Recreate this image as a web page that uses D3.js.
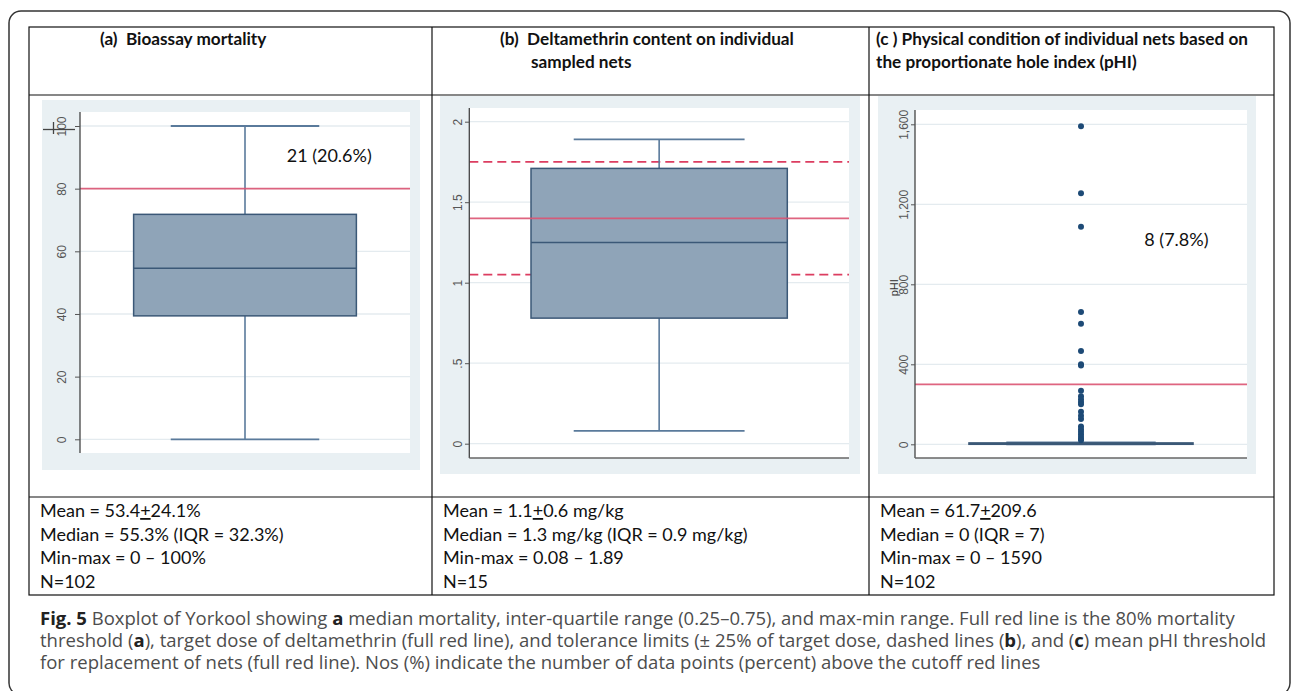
<!DOCTYPE html>
<html>
<head>
<meta charset="utf-8">
<script src="https://cdn.jsdelivr.net/npm/d3@7"></script>
<style>
body { margin: 0; background: #fff; }
svg text { font-family: Lato, sans-serif; white-space: pre; }
</style>
</head>
<body>
<svg id="fig" width="1292" height="691"></svg>
<script>
// Values
// box = [min, q1, median, q3, max]
var mortalityBox = [0, 39.4, 54.6, 71.8, 100];
var deltaBox = [0.08, 0.78, 1.25, 1.71, 1.89];
var phiBox = [0, 0, 0, 7, 10];
var phiOutliers = [1590, 1255, 1088, 661, 603, 466, 400, 394,
                   268, 240, 225, 212, 200, 163, 143, 127, 89, 75, 63, 50, 38, 27, 20];

var mortalityTicks = [0, 20, 40, 60, 80, 100];
var mortalityTickLabels = ["0", "20", "40", "60", "80", "100"];
var deltaTicks = [0, 0.5, 1, 1.5, 2];
var deltaTickLabels = ["0", ".5", "1", "1.5", "2"];
var phiTicks = [0, 400, 800, 1200, 1600];
var phiTickLabels = ["0", "400", "800", "1,200", "1,600"];

var mortalityCutoff = [80];
var deltaTarget = [1.4];
var deltaLimits = [1.05, 1.75];
var phiCutoff = [300];

var annotations = ["21 (20.6%)", "", "8 (7.8%)"];

var headers = [
  ["(a)  Bioassay mortality"],
  ["(b)  Deltamethrin content on individual", "sampled nets"],
  ["(c ) Physical condition of individual nets based on", "the proportionate hole index (pHI)"]
];
// [before, underlined, after]
var meanLines = [["Mean = 53.4", "+", "24.1%"], ["Mean = 1.1", "+", "0.6 mg/kg"], ["Mean = 61.7", "+", "209.6"]];
var medianLines = ["Median = 55.3% (IQR = 32.3%)", "Median = 1.3 mg/kg (IQR = 0.9 mg/kg)", "Median = 0 (IQR = 7)"];
var rangeLines = ["Min-max = 0 \u2013 100%", "Min-max = 0.08 \u2013 1.89", "Min-max = 0 \u2013 1590"];
var nLines = ["N=102", "N=15", "N=102"];

// caption pieces: [text, bold?]
var captionLines = [
  [["Fig. 5", 1], [" Boxplot of Yorkool showing ", 0], ["a", 1], [" median mortality, inter-quartile range (0.25\u20130.75), and max-min range. Full red line is the 80% mortality", 0]],
  [["threshold (", 0], ["a", 1], ["), target dose of deltamethrin (full red line), and tolerance limits (\u00b1 25% of target dose, dashed lines (", 0], ["b", 1], ["), and (", 0], ["c", 1], [") mean pHI threshold", 0]],
  [["for replacement of nets (full red line). Nos (%) indicate the number of data points (percent) above the cutoff red lines", 0]]
];

// Layout
var tableLeft = 29, tableRight = 1274, tableTop = 27, tableBottom = 595;
var rowLines = [95, 497];
var colLines = [432, 869];
var colStarts = [tableLeft, colLines[0], colLines[1]];

var boxColor = "#8fa4b8", boxStroke = "#3b5877", whiskerColor = "#5a7a9b";
var redColor = "#dc5473", gridColor = "#e4ebef", bgColor = "#e9f0f3";

var svg = d3.select("#fig");
svg.append("rect").attr("width", 1292).attr("height", 691).attr("fill", "#fff");

// outer rounded frame
svg.append("rect")
  .attr("x", 9).attr("y", 11).attr("width", 1281).attr("height", 684)
  .attr("rx", 12)
  .attr("fill", "none").attr("stroke", "#333").attr("stroke-width", 1.5);

// Panels
var panelDefs = [
  {bg: [42, 100, 420, 470], plot: [80, 112, 410, 453], domain: [0, 100], range: [439.3, 126],
   box: mortalityBox, ticks: mortalityTicks, labels: mortalityTickLabels, xLine: false, labOff: 18.3, tick: 5,
   note: [286.7, 155]},
  {bg: [440, 96, 860, 474], plot: [469.3, 108, 849, 458], domain: [0, 2], range: [443.7, 121.7],
   box: deltaBox, ticks: deltaTicks, labels: deltaTickLabels, xLine: true, labOff: 11.5, tick: 4.3,
   note: [0, 0]},
  {bg: [878, 96, 1256, 474], plot: [915, 110, 1247, 458], domain: [0, 1600], range: [444.3, 124.3],
   box: phiBox, ticks: phiTicks, labels: phiTickLabels, xLine: true, labOff: 10.7, tick: 4,
   note: [1144.3, 239]}
];

panelDefs.forEach(function(p, i) {
  var g = svg.append("g");
  var y = d3.scaleLinear().domain(p.domain).range(p.range);
  var x = d3.scaleLinear().domain([0, 1]).range([p.plot[0], p.plot[2]]);

  g.append("rect")
    .attr("x", p.bg[0]).attr("y", p.bg[1])
    .attr("width", p.bg[2] - p.bg[0]).attr("height", p.bg[3] - p.bg[1])
    .attr("fill", bgColor);
  g.append("rect")
    .attr("x", p.plot[0]).attr("y", p.plot[1])
    .attr("width", p.plot[2] - p.plot[0]).attr("height", p.plot[3] - p.plot[1])
    .attr("fill", "#fff");

  // gridlines
  g.selectAll(".grid").data(p.ticks).enter().append("line")
    .attr("x1", p.plot[0]).attr("x2", p.plot[2])
    .attr("y1", d => y(d)).attr("y2", d => y(d))
    .attr("stroke", gridColor).attr("stroke-width", 1.3);

  // dashed tolerance lines sit behind the box
  if (i == 1) {
    g.selectAll(".limit").data(deltaLimits).enter().append("line")
      .attr("x1", p.plot[0]).attr("x2", p.plot[2])
      .attr("y1", d => y(d)).attr("y2", d => y(d))
      .attr("stroke", "#dc3d60").attr("stroke-width", 1.8)
      .attr("stroke-dasharray", "9,5");
  }

  var b = p.box;
  var cx = x(0.5);
  // whiskers
  g.append("line").attr("x1", cx).attr("x2", cx).attr("y1", y(b[3])).attr("y2", y(b[4]))
    .attr("stroke", whiskerColor).attr("stroke-width", 1.6);
  g.append("line").attr("x1", cx).attr("x2", cx).attr("y1", y(b[1])).attr("y2", y(b[0]))
    .attr("stroke", whiskerColor).attr("stroke-width", 1.6);
  g.selectAll(".cap").data([b[0], b[4]]).enter().append("line")
    .attr("x1", x(0.275)).attr("x2", x(0.725))
    .attr("y1", d => y(d)).attr("y2", d => y(d))
    .attr("stroke", whiskerColor).attr("stroke-width", 1.8);
  // box
  g.append("rect")
    .attr("x", x(0.1625)).attr("width", x(0.8375) - x(0.1625))
    .attr("y", y(b[3])).attr("height", Math.max(y(b[1]) - y(b[3]), 1))
    .attr("fill", boxColor).attr("stroke", boxStroke).attr("stroke-width", 1.5);
  g.append("line")
    .attr("x1", x(0.1625)).attr("x2", x(0.8375))
    .attr("y1", y(b[2])).attr("y2", y(b[2]))
    .attr("stroke", boxStroke).attr("stroke-width", 1.5);

  // solid red cut-off lines
  var solid = [mortalityCutoff, deltaTarget, phiCutoff][i];
  g.selectAll(".cut").data(solid).enter().append("line")
    .attr("x1", p.plot[0]).attr("x2", p.plot[2])
    .attr("y1", d => y(d)).attr("y2", d => y(d))
    .attr("stroke", redColor).attr("stroke-width", 1.8).attr("opacity", 0.9);

  // outside values
  if (i == 2) {
    g.selectAll(".pt").data(phiOutliers).enter().append("circle")
      .attr("cx", cx).attr("cy", d => y(d)).attr("r", 3)
      .attr("fill", "#1d4a76");
  }

  // y axis
  var axis = d3.axisLeft(y).tickValues(p.ticks).tickSize(p.tick)
    .tickFormat((d, k) => p.labels[k]);
  var ag = g.append("g").attr("transform", "translate(" + p.plot[0] + ",0)").call(axis);
  ag.select(".domain")
    .attr("d", "M0," + p.plot[1] + "V" + p.plot[3])
    .attr("stroke", "#444").attr("stroke-width", 1.3);
  ag.selectAll(".tick line").attr("stroke", "#555");
  ag.selectAll(".tick text")
    .attr("transform", "rotate(-90)")
    .attr("x", 0).attr("y", -p.labOff).attr("dy", null)
    .attr("dominant-baseline", "central")
    .style("text-anchor", "middle")
    .style("font-family", "'Liberation Sans', Arial, sans-serif")
    .style("font-size", "12px")
    .attr("fill", "#555");

  if (p.xLine) {
    g.append("line")
      .attr("x1", p.plot[0]).attr("x2", p.plot[2])
      .attr("y1", p.plot[3]).attr("y2", p.plot[3])
      .attr("stroke", "#666").attr("stroke-width", 1.5);
  }

  if (annotations[i]) {
    g.append("text")
      .attr("x", p.note[0]).attr("y", p.note[1])
      .attr("dominant-baseline", "central")
      .style("font-size", "18px").attr("fill", "#111")
      .text(annotations[i]);
  }
});

// pHI axis title
svg.append("text")
  .attr("transform", "translate(894.3,287.7) rotate(-90)")
  .attr("text-anchor", "middle").attr("dominant-baseline", "central")
  .style("font-family", "'Liberation Sans', Arial, sans-serif")
  .style("font-size", "11px").attr("fill", "#333")
  .text("pHI");

// stray marks around the "100" label in panel a
svg.append("line").attr("x1", 43).attr("x2", 75).attr("y1", 129.5).attr("y2", 129.5)
  .attr("stroke", "#444").attr("stroke-width", 1.3);
svg.append("line").attr("x1", 53.5).attr("x2", 53.5).attr("y1", 122).attr("y2", 134)
  .attr("stroke", "#444").attr("stroke-width", 1.3);

// table grid
var tg = svg.append("g").attr("stroke", "#111").attr("stroke-width", 1.2).attr("fill", "none");
tg.append("rect").attr("x", tableLeft).attr("y", tableTop)
  .attr("width", tableRight - tableLeft).attr("height", tableBottom - tableTop);
rowLines.forEach(function(r) {
  tg.append("line").attr("x1", tableLeft).attr("x2", tableRight).attr("y1", r).attr("y2", r);
});
colLines.forEach(function(c) {
  tg.append("line").attr("x1", c).attr("x2", c).attr("y1", tableTop).attr("y2", tableBottom);
});

// header texts
var headerX = [100, 500, 876];
var headerSecondX = [100, 531, 876];
headers.forEach(function(lines, i) {
  lines.forEach(function(t, k) {
    svg.append("text")
      .attr("x", k == 0 ? headerX[i] : headerSecondX[i])
      .attr("y", 45 + k * 23)
      .style("font-size", "17.2px").style("font-weight", "bold").attr("fill", "#111")
      .text(t);
  });
});

// stats texts
var statBase = [517, 541, 564, 588];
colStarts.forEach(function(c, i) {
  var tx = c + 11;
  var t = svg.append("text").attr("x", tx).attr("y", statBase[0])
    .style("font-size", "18px").attr("fill", "#111");
  t.append("tspan").text(meanLines[i][0]);
  t.append("tspan").style("text-decoration", "underline").text(meanLines[i][1]);
  t.append("tspan").text(meanLines[i][2]);
  [medianLines[i], rangeLines[i], nLines[i]].forEach(function(s, k) {
    svg.append("text").attr("x", tx).attr("y", statBase[k + 1])
      .style("font-size", "18px").attr("fill", "#111").text(s);
  });
});

// caption
captionLines.forEach(function(parts, k) {
  var t = svg.append("text").attr("x", 40).attr("y", 624.5 + k * 22)
    .style("font-family", "'Open Sans', sans-serif").style("font-size", "18.5px")
    .attr("fill", "#4d4d4d");
  parts.forEach(function(p) {
    t.append("tspan")
      .style("font-weight", p[1] ? "bold" : "normal")
      .attr("fill", p[1] ? "#222" : "#4d4d4d")
      .text(p[0]);
  });
});
</script>
</body>
</html>
